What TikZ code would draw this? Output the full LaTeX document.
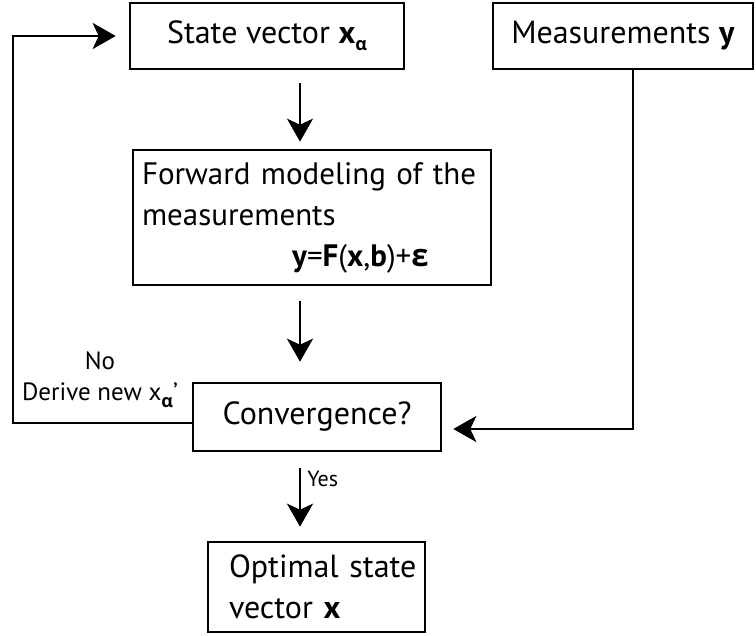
\documentclass[tikz,border=0pt]{standalone}
\usepackage{fontspec}
\setmainfont{PT Sans}
\newfontfamily\greekf{Open Sans}
\usetikzlibrary{arrows.meta}
\newcommand{\subal}{\raisebox{-7pt}{\fontsize{18}{18}\selectfont\greekf\bfseries α}}
\begin{document}
\begin{tikzpicture}[x=1pt,y=-1pt,
  box/.style={draw, line width=2.6pt, inner sep=0pt, font=\fontsize{32}{41}\selectfont},
  arr/.style={line width=2.6pt, -{Stealth[length=23pt,width=26pt,inset=6pt]}},
  lbl/.style={font=\fontsize{25}{31}\selectfont, inner sep=0pt}]
\useasboundingbox (0,0) rectangle (756,636);
\node[box, minimum width=274pt, minimum height=66pt] (state) at (267,36) {State vector \textbf{x}\subal};
\node[box, minimum width=260pt, minimum height=66pt] (meas) at (623,36) {Measurements \textbf{y}};
\node[box, minimum width=358pt, minimum height=135pt, text width=340pt, inner xsep=9pt, align=left, font=\fontsize{31}{41}\selectfont] (fwd) at (312,217.5)
  {\mbox{Forward modeling of the}\\\mbox{measurements}\\\mbox{\hspace*{150pt}\textbf{y}=\textbf{F}(\textbf{x},\textbf{b})+{\greekf\bfseries ε}}};
\node[box, minimum width=248pt, minimum height=68pt] (conv) at (317,417) {Convergence?};
\node[box, minimum width=217pt, minimum height=90pt, text width=195pt, inner xsep=11pt, align=left] (opt) at (316.5,587)
  {\mbox{\hspace*{10pt}Optimal state}\\\mbox{\hspace*{10pt}vector \textbf{x}}};
\coordinate (fbk) at (13,36);
\draw[arr, shorten <=13pt, shorten >=7pt] ([xshift=33pt]state.south) -- ([xshift=-12pt]fwd.north);
\draw[arr, shorten <=15pt, shorten >=20pt] ([xshift=-12pt]fwd.south) -- ([xshift=-17pt]conv.north);
\draw[arr, shorten <=16pt, shorten >=14pt] ([xshift=-17pt]conv.south) -- node[lbl, pos=0.3, right=6pt, font=\fontsize{22}{26}\selectfont] (yes) {Yes} ([xshift=-16.5pt]opt.north);
\draw[arr, shorten >=13pt] ([yshift=-6pt]conv.west) -| (fbk) -- (state.west);
\draw[arr, shorten >=11pt] ([xshift=10pt]meas.south) |- ([yshift=-12pt]conv.east);
\node[lbl, align=center] (no) at (100,380) {No\\Derive new x\subal’};
\end{tikzpicture}
\end{document}
